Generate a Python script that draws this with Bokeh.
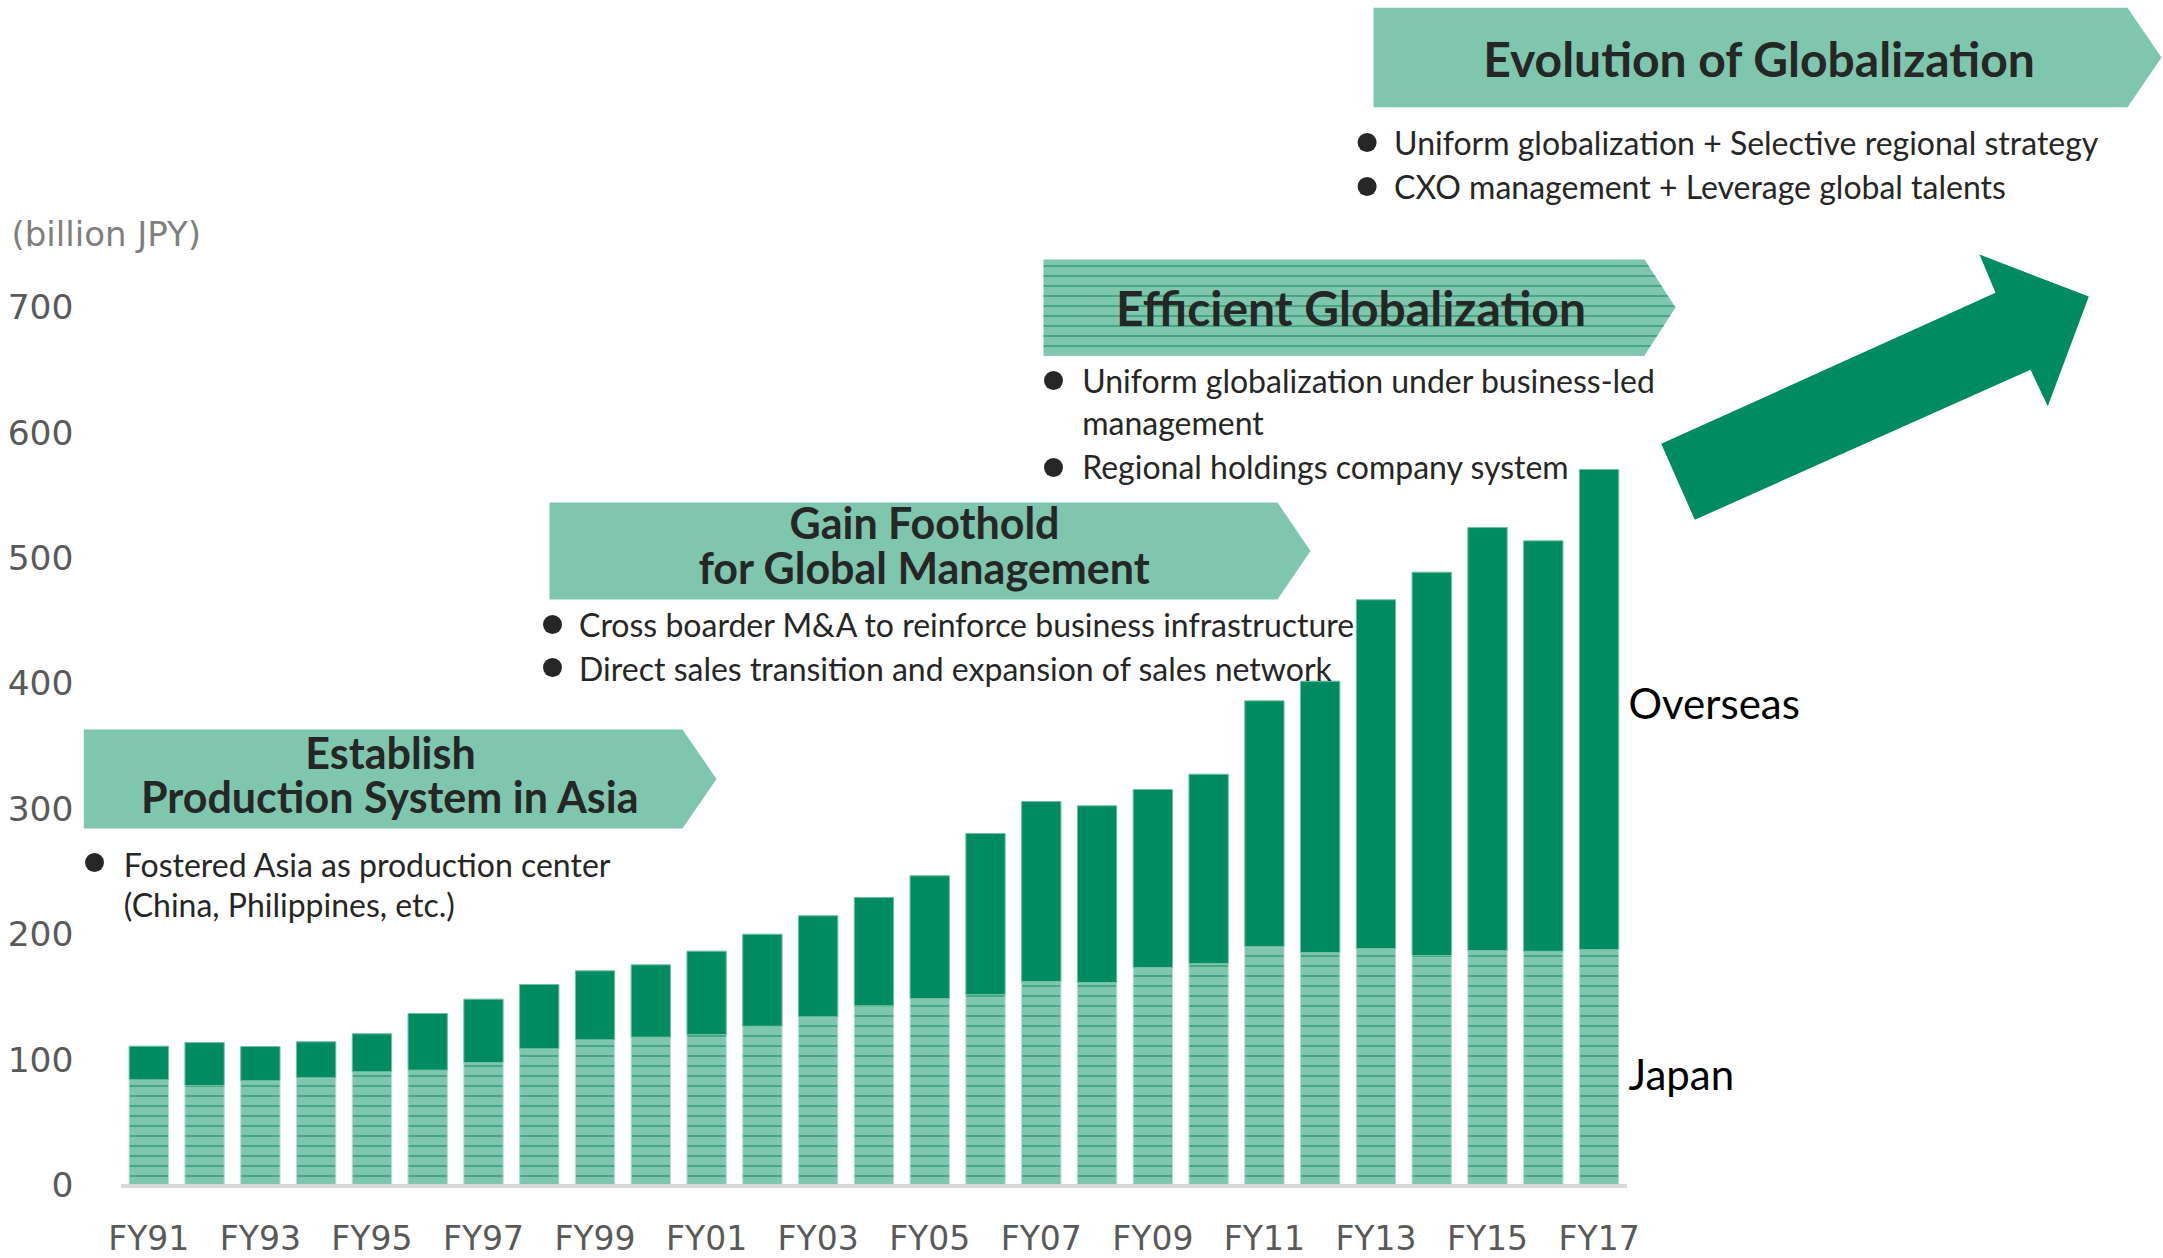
from bokeh.plotting import figure
from bokeh.models import Range1d, FixedTicker
from bokeh.core.properties import value
from bokeh.embed import file_html
from bokeh.resources import INLINE

# ---------------- data ----------------
years = ["FY91", "FY92", "FY93", "FY94", "FY95", "FY96", "FY97", "FY98", "FY99",
         "FY00", "FY01", "FY02", "FY03", "FY04", "FY05", "FY06", "FY07", "FY08",
         "FY09", "FY10", "FY11", "FY12", "FY13", "FY14", "FY15", "FY16", "FY17"]
japan = [83.5, 78.9, 82.7, 85.1, 89.9, 91.2, 97.3, 108.2, 115.4,
         117.5, 119.6, 126.2, 133.7, 142.5, 148.3, 151.5, 161.9, 161.1,
         173.0, 176.2, 189.8, 185.0, 188.2, 182.6, 186.6, 186.0, 187.4]
overseas = [26.8, 34.3, 27.3, 28.7, 30.3, 45.2, 50.5, 51.3, 55.0,
            57.7, 66.5, 73.4, 80.6, 86.4, 97.9, 128.4, 143.5, 140.9,
            142.0, 151.0, 195.9, 216.4, 278.1, 305.7, 337.3, 327.3, 382.8]
y_ticks = [0, 100, 200, 300, 400, 500, 600, 700]
unit_label = "(billion JPY)"

DARK = "#008C60"
LIGHT = "#7FC6AE"
HATCH = "#2A9A6E"
TXT = "#262626"

W, H = 2163, 1258
# pixel geometry of the reference (used for annotation placement only)
PX0, DX = 148.3, 55.78      # x pixel of first bar centre, pixels per bar
PY0, DY = 1184.0, 1.254     # y pixel of value 0, pixels per unit
OFF = 0.28                  # baseline correction (fraction of font size)


def X(px):
    return (px - PX0) / DX


def Y(py):
    return (PY0 - py) / DY


idx = list(range(len(years)))
total = [j + o for j, o in zip(japan, overseas)]

p = figure(width=W, height=H, output_backend="svg", toolbar_location=None,
           x_range=Range1d(X(0), X(W)), y_range=Range1d(Y(H), Y(0)),
           min_border_left=0, min_border_right=0, min_border_top=0,
           min_border_bottom=0)
p.outline_line_color = None
p.xgrid.visible = False
p.ygrid.visible = False
p.background_fill_color = "white"
p.border_fill_color = "white"

# axes (drawn at fixed positions inside the canvas)
p.xaxis.ticker = FixedTicker(ticks=idx[::2])
p.xaxis.major_label_overrides = {i: years[i] for i in idx}
p.yaxis.ticker = FixedTicker(ticks=y_ticks)
p.xaxis.fixed_location = 0
p.yaxis.fixed_location = X(80)
for ax in (p.xaxis[0], p.yaxis[0]):
    ax.axis_line_color = None
    ax.major_tick_line_color = None
    ax.minor_tick_line_color = None
    ax.major_tick_out = 0
    ax.major_tick_in = 0
    ax.minor_tick_out = 0
    ax.minor_tick_in = 0
    ax.major_label_text_font = "DejaVu Sans"
    ax.major_label_text_color = "#595959"
p.yaxis.major_label_text_font_size = "34.5px"
p.xaxis.major_label_text_font_size = "33px"
p.xaxis.major_label_standoff = 34
p.yaxis.major_label_standoff = 7

# bars
p.vbar(x=idx, bottom=0, top=japan, width=0.705, fill_color=LIGHT,
       line_color="#B5E0D0", line_width=1,
       hatch_pattern="horizontal_line", hatch_color=HATCH, hatch_scale=10,
       hatch_weight=1.5, hatch_alpha=0.9)
p.vbar(x=idx, bottom=japan, top=total, width=0.705, fill_color=DARK,
       line_color="#6FC0A2", line_width=1)
# baseline
p.segment(x0=[-0.5], y0=[Y(1185.5)], x1=[26.5], y1=[Y(1185.5)],
          line_color="#D9D9D9", line_width=4)


# banners
def chevron(left, top, bottom, body_right, tip):
    mid = (top + bottom) / 2
    xs = [X(left), X(body_right), X(tip), X(body_right), X(left)]
    ys = [Y(top), Y(top), Y(mid), Y(bottom), Y(bottom)]
    return xs, ys


plain = [chevron(83.3, 729, 828, 682, 716),
         chevron(549, 502, 599, 1277, 1310),
         chevron(1373, 7.3, 106.7, 2127, 2161)]
p.patches(xs=[c[0] for c in plain], ys=[c[1] for c in plain],
          fill_color=LIGHT, line_color=None)
eff = chevron(1043, 259, 355, 1644, 1675)
p.patches(xs=[eff[0]], ys=[eff[1]], fill_color=LIGHT, line_color=None,
          hatch_pattern="horizontal_line", hatch_color=HATCH, hatch_scale=10,
          hatch_weight=1.5, hatch_alpha=0.9)

# big arrow
arrow_px = [(1660.7, 443.3), (1995.0, 292.3), (1979.0, 254.0), (2088.3, 296.0),
            (2047.3, 405.7), (2030.0, 369.3), (1694.3, 519.3)]
p.patch(x=[X(a) for a, b in arrow_px], y=[Y(b) for a, b in arrow_px],
        fill_color=DARK, line_color=None)


def texts(items, size, style, color=TXT, align="left", font="Lato"):
    shift = OFF * size
    p.text(x=[X(a) for a, b, t in items], y=[Y(b - shift) for a, b, t in items],
           text=[t for a, b, t in items], text_font=value(font),
           text_font_size=f"{size}px", text_font_style=style, text_color=color,
           text_align=align, text_baseline="alphabetic")


# banner titles
texts([(390, 764.5, "Establish"),
       (390, 808, "Production System in Asia"),
       (924, 534, "Gain Foothold"),
       (924, 579, "for Global Management")], 43, "bold", align="center")
texts([(1350.5, 320.5, "Efficient Globalization"),
       (1759, 71.5, "Evolution of Globalization")], 48, "bold", align="center")

# bullet texts
texts([(123.3, 873.3, "Fostered Asia as production center"),
       (123.3, 913.3, "(China, Philippines, etc.)"),
       (578.6, 633.3, "Cross boarder M&A to reinforce business infrastructure"),
       (578.6, 676.7, "Direct sales transition and expansion of  sales network"),
       (1081.7, 389, "Uniform globalization under business-led"),
       (1081.7, 430.5, "management"),
       (1081.7, 475, "Regional holdings company system"),
       (1393.6, 151, "Uniform globalization + Selective regional strategy"),
       (1393.6, 195, "CXO management + Leverage global talents")], 32, "normal")

bullets = [(94, 862), (552, 624), (552, 667), (1053, 380),
           (1053, 467), (1366.6, 142), (1366.6, 186)]
p.scatter(x=[X(a) for a, b in bullets], y=[Y(b) for a, b in bullets],
          size=19, marker="circle", fill_color=TXT, line_color=None)

# series labels
texts([(1628, 714, "Overseas"), (1628, 1085, "Japan")], 42, "normal",
      color="#000000")

# unit label
texts([(11, 243, unit_label)], 34, "normal", color="#7F7F7F",
      font="DejaVu Sans")

open("out.html", "w").write(file_html(p, INLINE))
